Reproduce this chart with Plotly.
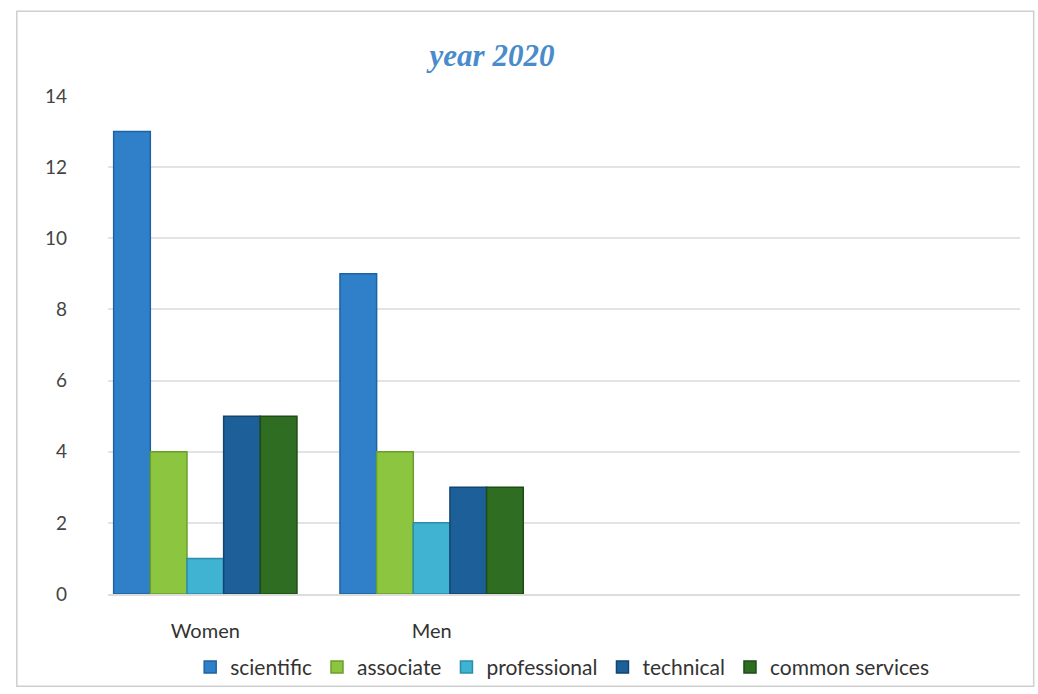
import plotly.graph_objects as go

# Staff counts by group for 2020
groups = ["Women", "Men"]
series_names = ["scientific", "associate", "professional", "technical", "common services"]
scientific = [13, 9]
associate = [4, 4]
professional = [1, 2]
technical = [5, 3]
common_services = [5, 3]

series_values = [scientific, associate, professional, technical, common_services]
colors = ["#2f80c9", "#8cc641", "#40b2d2", "#1d5f98", "#2e6d22"]
edges = ["#1f62a3", "#6a9e2c", "#2a8eaa", "#12446f", "#1d4d15"]

fig = go.Figure()
for name, vals, col, edge in zip(series_names, series_values, colors, edges):
    fig.add_trace(go.Bar(
        x=groups, y=vals, name=name,
        marker=dict(color=col, line=dict(color=edge, width=1.5)),
    ))

fig.update_layout(
    width=1038, height=694,
    paper_bgcolor="white", plot_bgcolor="white",
    margin=dict(l=108, r=18, t=96, b=100, autoexpand=False),
    barmode="group", bargap=0.19, bargroupgap=0.0,
    title=dict(
        text="<b><i>year 2020</i></b>",
        x=0.474, xanchor="center", y=0.92, yanchor="middle",
        font=dict(family="Liberation Serif, Times New Roman, serif", size=31, color="#4a8ccb"),
    ),
    font=dict(family="Lato, Open Sans, sans-serif", color="#444444"),
    legend=dict(
        orientation="h", x=0.498, xanchor="center",
        yref="container", y=0.068, yanchor="top",
        font=dict(size=21, color="#333333"),
        itemwidth=30, traceorder="normal",
        bgcolor="rgba(0,0,0,0)",
    ),
    showlegend=True,
)

fig.update_xaxes(
    type="category", range=[-0.43, 3.6], automargin=False,
    showgrid=False, showline=True, linecolor="#dddddd", linewidth=2,
    ticks="", ticklabelstandoff=18,
    tickfont=dict(size=20, color="#333333"),
)
fig.update_yaxes(
    range=[0, 14], dtick=2, automargin=False,
    showgrid=True, gridcolor="#e3e3e3", gridwidth=1.5,
    zeroline=False, showline=False, ticks="",
    ticklabelstandoff=40,
    tickfont=dict(size=19, color="#444444"),
)

# light frame around the chart area
fig.add_shape(type="rect", xref="paper", yref="paper",
              x0=-0.1, x1=1.015, y0=-0.185, y1=1.17,
              line=dict(color="#cfcfcf", width=1.5), layer="below")

fig.write_html("out.html")
